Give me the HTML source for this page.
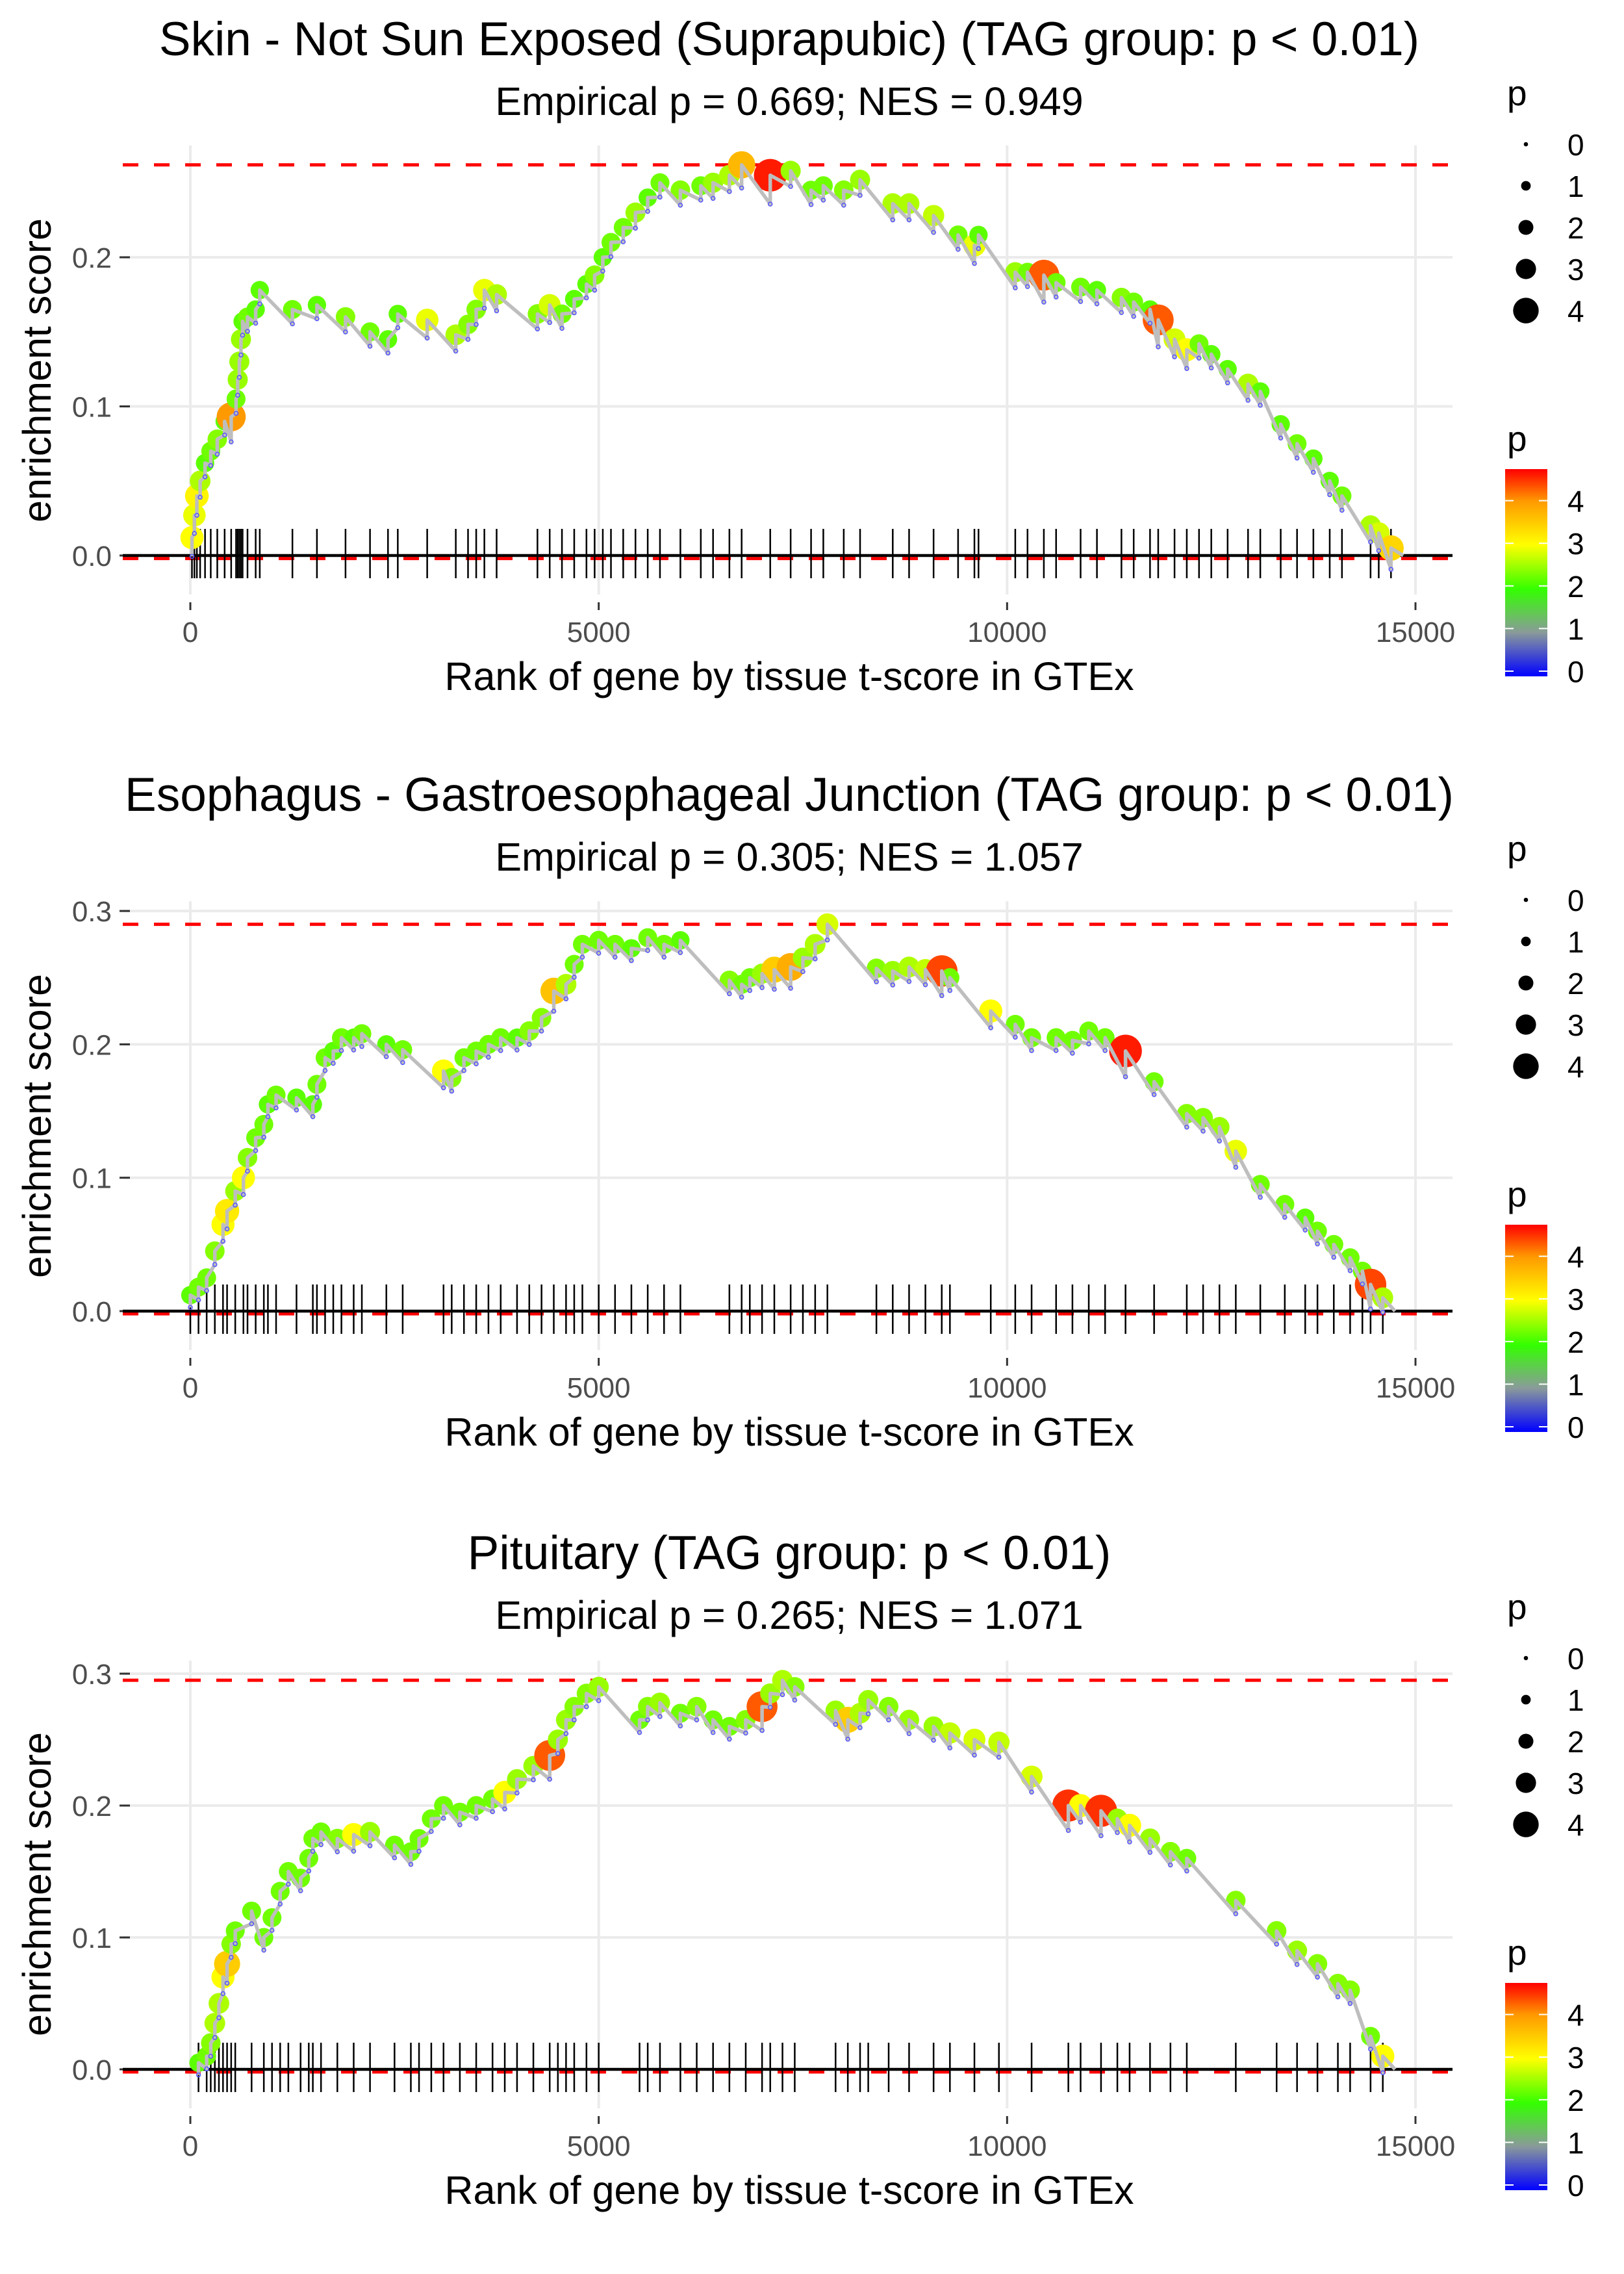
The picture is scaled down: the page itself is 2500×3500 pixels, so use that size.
<!DOCTYPE html>
<html><head><meta charset="utf-8"><style>
html,body{margin:0;padding:0;background:#fff;}
svg{display:block;font-family:"Liberation Sans",Arial,sans-serif;}
</style></head><body>
<svg id="chart" width="2500" height="3500" viewBox="0 0 2500 3500" xmlns="http://www.w3.org/2000/svg">
<defs>
<linearGradient id="pgrad" x1="0" y1="1" x2="0" y2="0">
<stop offset="0" stop-color="#0000ff"/>
<stop offset="0.211" stop-color="#8a9a9a"/>
<stop offset="0.42" stop-color="#33ff00"/>
<stop offset="0.634" stop-color="#ffff00"/>
<stop offset="0.846" stop-color="#ff9900"/>
<stop offset="1" stop-color="#ff0000"/>
</linearGradient>
</defs>
<g id="panel1">
<text x="1215" y="85" font-size="73" text-anchor="middle">Skin - Not Sun Exposed (Suprapubic) (TAG group: p &lt; 0.01)</text>
<text x="1215" y="177" font-size="61" text-anchor="middle">Empirical p = 0.669; NES = 0.949</text>
</g>
<g id="panel2">
<text x="1215" y="1248" font-size="73" text-anchor="middle">Esophagus - Gastroesophageal Junction (TAG group: p &lt; 0.01)</text>
<text x="1215" y="1340" font-size="61" text-anchor="middle">Empirical p = 0.305; NES = 1.057</text>
</g>
<g id="panel3">
<text x="1215" y="2415" font-size="73" text-anchor="middle">Pituitary (TAG group: p &lt; 0.01)</text>
<text x="1215" y="2507" font-size="61" text-anchor="middle">Empirical p = 0.265; NES = 1.071</text>
</g>
</svg>
<script>
// ---- data ----
const xTicks = [0, 5000, 10000, 15000];
const xTickLabels = ["0", "5000", "10000", "15000"];
const yTicks1 = [0, 0.1, 0.2];
const yTickLabels1 = ["0.0", "0.1", "0.2"];
const yTicks2 = [0, 0.1, 0.2, 0.3];
const yTickLabels2 = ["0.0", "0.1", "0.2", "0.3"];
const yTicks3 = [0, 0.1, 0.2, 0.3];
const yTickLabels3 = ["0.0", "0.1", "0.2", "0.3"];
const sizeLegendValues = [0, 1, 2, 3, 4];
const colorLegendValues = [0, 1, 2, 3, 4];

const ranks1 = [20,50,80,120,180,250,330,420,500,560,580,600,620,640,700,800,850,1250,1550,1900,2200,2420,2540,2900,3250,3400,3500,3600,3750,4250,4400,4550,4700,4850,4950,5050,5150,5300,5450,5600,5750,6000,6250,6400,6600,6750,7100,7350,7600,7750,8000,8200,8600,8800,9100,9400,9600,9650,10100,10250,10450,10600,10900,11100,11400,11550,11750,11850,12050,12200,12350,12500,12700,12950,13100,13350,13550,13750,13950,14100,14450,14550,14700];
const es1 = [0.012,0.027,0.04,0.05,0.062,0.07,0.078,0.09,0.093,0.105,0.118,0.13,0.145,0.157,0.16,0.165,0.178,0.165,0.168,0.16,0.15,0.145,0.162,0.158,0.148,0.155,0.165,0.178,0.175,0.162,0.168,0.162,0.172,0.182,0.188,0.2,0.21,0.22,0.23,0.24,0.25,0.245,0.248,0.25,0.255,0.262,0.255,0.258,0.245,0.248,0.245,0.252,0.236,0.236,0.228,0.215,0.208,0.215,0.19,0.19,0.188,0.183,0.18,0.178,0.173,0.17,0.165,0.158,0.145,0.138,0.142,0.135,0.125,0.115,0.11,0.088,0.075,0.065,0.05,0.04,0.02,0.015,0.005];
const p1 = [3.0,2.9,3.1,2.6,2.2,2.3,2.4,2.2,4.0,2.3,2.5,2.5,2.5,2.2,2.3,2.2,2.2,2.3,2.2,2.4,2.3,2.2,2.2,2.9,2.6,2.4,2.4,2.9,2.6,2.4,2.8,2.3,2.2,2.2,2.4,2.2,2.3,2.3,2.5,2.2,2.3,2.4,2.3,2.5,2.6,3.7,4.6,2.5,2.3,2.3,2.4,2.5,2.6,2.6,2.7,2.3,2.9,2.2,2.5,2.3,4.3,2.3,2.3,2.2,2.4,2.3,2.2,4.3,2.8,3.0,2.3,2.2,2.2,2.6,2.2,2.2,2.3,2.2,2.2,2.3,2.6,2.8,3.4];

const ranks2 = [0,100,200,300,400,450,550,650,700,800,900,950,1050,1300,1500,1550,1650,1750,1850,2000,2100,2400,2600,3100,3200,3350,3500,3650,3800,4000,4150,4300,4450,4600,4700,4800,5000,5200,5400,5600,5800,6000,6600,6750,6850,7000,7150,7350,7500,7650,7800,8400,8600,8800,9000,9200,9300,9800,10100,10300,10600,10800,11000,11200,11450,11800,12200,12400,12600,12800,13100,13400,13650,13800,14000,14200,14350,14450,14600];
const es2 = [0.012,0.018,0.025,0.045,0.065,0.075,0.09,0.1,0.115,0.13,0.14,0.155,0.162,0.16,0.155,0.17,0.19,0.195,0.205,0.205,0.208,0.2,0.196,0.18,0.175,0.19,0.195,0.2,0.205,0.205,0.21,0.22,0.24,0.245,0.26,0.275,0.278,0.275,0.272,0.28,0.275,0.278,0.248,0.245,0.25,0.253,0.256,0.258,0.265,0.275,0.29,0.257,0.255,0.258,0.256,0.255,0.25,0.225,0.215,0.205,0.205,0.203,0.21,0.205,0.195,0.172,0.148,0.145,0.138,0.12,0.095,0.08,0.07,0.06,0.05,0.04,0.03,0.02,0.01];
const p2 = [2.2,2.3,2.3,2.4,3.0,3.2,2.5,3.0,2.4,2.3,2.3,2.2,2.3,2.2,2.2,2.3,2.3,2.2,2.3,2.2,2.3,2.2,2.3,3.0,2.4,2.3,2.3,2.3,2.3,2.2,2.4,2.4,3.6,2.6,2.3,2.3,2.3,2.3,2.2,2.3,2.3,2.2,2.4,2.3,2.3,2.5,3.5,3.8,2.5,2.6,2.8,2.4,2.5,2.6,2.7,4.4,2.3,3.0,2.3,2.3,2.3,2.3,2.3,2.3,4.6,2.3,2.4,2.4,2.5,2.9,2.3,2.3,2.2,2.3,2.3,2.3,2.3,4.4,2.6];

const ranks3 = [100,200,250,300,350,400,450,500,550,750,900,1000,1100,1200,1350,1450,1500,1600,1800,2000,2200,2500,2700,2800,2950,3100,3300,3500,3700,3850,4000,4200,4400,4500,4600,4700,4850,5000,5500,5600,5750,6000,6200,6400,6600,6800,7000,7100,7250,7400,7900,8050,8200,8300,8550,8800,9100,9300,9600,9900,10300,10750,10900,11150,11350,11500,11750,12000,12200,12800,13300,13550,13800,14050,14200,14450,14600];
const es3 = [0.005,0.01,0.02,0.035,0.05,0.07,0.08,0.095,0.105,0.12,0.1,0.115,0.135,0.15,0.145,0.16,0.175,0.18,0.175,0.178,0.18,0.17,0.165,0.175,0.19,0.2,0.195,0.2,0.205,0.21,0.22,0.23,0.238,0.25,0.265,0.275,0.285,0.29,0.265,0.275,0.278,0.27,0.275,0.265,0.26,0.265,0.275,0.285,0.295,0.29,0.272,0.265,0.27,0.28,0.275,0.265,0.26,0.255,0.25,0.248,0.222,0.2,0.2,0.196,0.19,0.185,0.175,0.165,0.16,0.128,0.105,0.09,0.08,0.065,0.06,0.025,0.01];
const p3 = [2.2,2.3,2.4,2.6,2.6,3.0,3.5,2.4,2.3,2.3,2.3,2.3,2.3,2.3,2.3,2.3,2.3,2.3,2.4,3.0,2.5,2.3,2.3,2.3,2.3,2.3,2.3,2.3,2.3,3.0,2.5,2.5,4.3,2.5,2.5,2.4,2.4,2.5,2.3,2.4,2.5,2.3,2.4,2.3,2.3,2.4,4.3,2.5,2.6,2.4,2.5,3.5,2.6,2.5,2.4,2.5,2.5,2.7,2.8,2.7,2.8,4.5,3.0,4.5,2.5,3.0,2.5,2.4,2.3,2.4,2.4,2.5,2.4,2.4,2.4,2.3,3.0];

// ---- drawing ----
const NS = "http://www.w3.org/2000/svg";
const X0 = 293, XS = (2179 - 293) / 15000;
const PL = 189, PR = 2236;
function xScale(r) { return X0 + r * XS; }
function mk(tag, attrs, parent) {
  const e = document.createElementNS(NS, tag);
  for (const k in attrs) e.setAttribute(k, attrs[k]);
  parent.appendChild(e);
  return e;
}
const stops = [[0,[0,0,255]],[1,[138,154,154]],[2,[51,255,0]],[3,[255,255,0]],[4,[255,153,0]],[4.73,[255,0,0]]];
function pColor(p) {
  if (p <= stops[0][0]) return "rgb(0,0,255)";
  for (let i = 1; i < stops.length; i++) {
    if (p <= stops[i][0]) {
      const a = stops[i-1], b = stops[i], t = (p - a[0]) / (b[0] - a[0]);
      const c = a[1].map((v, j) => Math.round(v + (b[1][j] - v) * t));
      return "rgb(" + c.join(",") + ")";
    }
  }
  return "rgb(255,0,0)";
}
function pRadius(p) { return 4 + 4.6 * p; }

function drawPanel(g, dy, y0, ys, ranks, es, ps, yTicks, yLabels) {
  const yScale = v => y0 - v * ys;
  const top = yScale(Math.max(...yTicks)) - 15, bot = y0 + 60;
  const n = Math.min(ranks.length, es.length, ps.length);
  xTicks.forEach(t => {
    const l = mk("line", {x1: xScale(t), x2: xScale(t), y1: Math.min(top, yScale(Math.max(...es)) - 30), y2: bot, stroke: "#ebebeb", "stroke-width": 4}, g);
    
    
  });
  yTicks.forEach((t, i) => {
    const l = mk("line", {x1: PL, x2: PR, y1: yScale(t), y2: yScale(t), stroke: "#ebebeb", "stroke-width": 4}, g);
    
    
    const tk = mk("line", {x1: 184, x2: 200, y1: yScale(t), y2: yScale(t), stroke: "#333", "stroke-width": 3}, g);
    
    
    const tx = mk("text", {x: 172, y: yScale(t) + 16, "font-size": 44, fill: "#4d4d4d", "text-anchor": "end"}, g);
    tx.textContent = yLabels[i];
    
    
  });
  xTicks.forEach((t, i) => {
    const tk = mk("line", {x1: xScale(t), x2: xScale(t), y1: y0 + 72, y2: y0 + 84, stroke: "#333", "stroke-width": 3}, g);
    
    
    const tx = mk("text", {x: xScale(t), y: y0 + 133, "font-size": 44, fill: "#4d4d4d", "text-anchor": "middle"}, g);
    tx.textContent = xTickLabels[i];
    
    
  });
  const mx = Math.max(...es.slice(0, n)), mn = Math.min(0, ...es.slice(0, n)) - 0.002;
  [mx, mn].forEach(v => {
    const l = mk("line", {x1: PL, x2: PR, y1: yScale(v), y2: yScale(v), stroke: "#ff0000", "stroke-width": 5, "stroke-dasharray": "24 24"}, g);
    
    
  });
  const z = mk("line", {x1: PL, x2: PR, y1: y0, y2: y0, stroke: "#000", "stroke-width": 4.5}, g);
  
  
  for (let i = 0; i < n; i++) {
    const l = mk("line", {x1: xScale(ranks[i]), x2: xScale(ranks[i]), y1: y0 - 41, y2: y0 + 35, stroke: "#000", "stroke-width": 2.5}, g);
    
    
  }
  for (let i = 0; i < n; i++) {
    const c = mk("circle", {cx: xScale(ranks[i]), cy: yScale(es[i]), r: pRadius(ps[i]), fill: pColor(ps[i])}, g);
    
    
  }
  let pts = [];
  const valleys = [];
  for (let i = 0; i < n; i++) {
    const jump = 0.0042 * ps[i];
    const vy = es[i] - jump;
    pts.push(xScale(ranks[i]) + "," + yScale(vy));
    pts.push(xScale(ranks[i]) + "," + yScale(es[i]));
    valleys.push([ranks[i], vy]);
  }
  const last = n - 1;
  pts.push(xScale(ranks[last] + 150) + "," + yScale(0));
  const pl = mk("polyline", {points: pts.join(" "), fill: "none", stroke: "#bebebe", "stroke-width": 5.5, "stroke-linejoin": "round"}, g);
  
  
  valleys.forEach(v => {
    const c = mk("circle", {cx: xScale(v[0]), cy: yScale(v[1]), r: 3, fill: "none", stroke: "#5555ff", "stroke-width": 1.5}, g);
    
    
  });
  const xt = mk("text", {x: 1215, y: y0 + 207, "font-size": 61, "text-anchor": "middle"}, g);
  xt.textContent = "Rank of gene by tissue t-score in GTEx";
  
  
  const yc = y0 - 285;
  const yt = mk("text", {x: 0, y: 0, "font-size": 61, "text-anchor": "middle", transform: "translate(78," + yc + ") rotate(-90)"}, g);
  yt.textContent = "enrichment score";
  
  
  const lg = mk("g", {}, g);
  
  
  const lt = mk("text", {x: 2320, y: 162 + dy, "font-size": 55}, lg);
  lt.textContent = "p";
  sizeLegendValues.forEach((v, i) => {
    const c = mk("circle", {cx: 2349, cy: 222 + dy + i * 64, r: 3.3 + 4.1 * v, fill: "#000"}, lg);
    
    
    const t = mk("text", {x: 2413, y: 222 + dy + i * 64 + 17, "font-size": 46}, lg);
    t.textContent = String(v);
  });
  const cg = mk("g", {}, g);
  
  
  const ct = mk("text", {x: 2320, y: 694 + dy, "font-size": 55}, cg);
  ct.textContent = "p";
  const bar = mk("rect", {x: 2317, y: 722 + dy, width: 65, height: 319, fill: "url(#pgrad)"}, cg);
  
  
  colorLegendValues.forEach(v => {
    const yy = 1033 + dy - v * 65.6;
    mk("line", {x1: 2317, x2: 2330, y1: yy, y2: yy, stroke: "#fff", "stroke-width": 2}, cg);
    mk("line", {x1: 2369, x2: 2382, y1: yy, y2: yy, stroke: "#fff", "stroke-width": 2}, cg);
    const t = mk("text", {x: 2413, y: yy + 17, "font-size": 46}, cg);
    t.textContent = String(v);
  });
}
drawPanel(document.getElementById("panel1"), 0, 855, 2295, ranks1, es1, p1, yTicks1, yTickLabels1);
drawPanel(document.getElementById("panel2"), 1163, 2018, 2053, ranks2, es2, p2, yTicks2, yTickLabels2);
drawPanel(document.getElementById("panel3"), 2330, 3185, 2030, ranks3, es3, p3, yTicks3, yTickLabels3);
</script>
</body></html>
